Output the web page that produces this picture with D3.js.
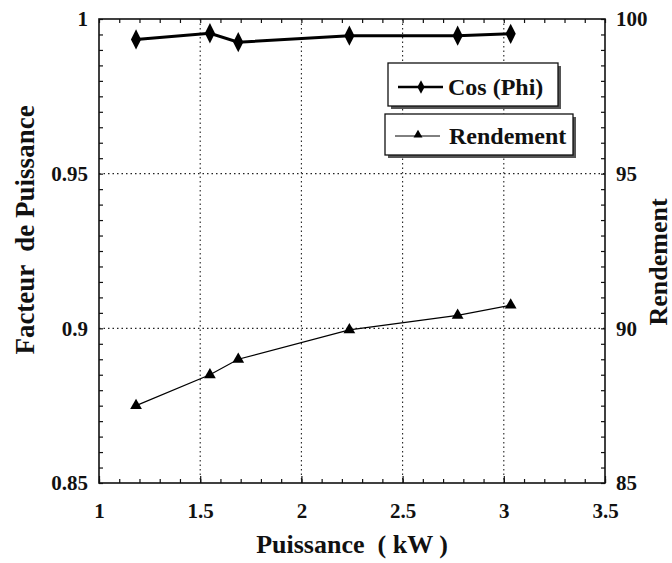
<!DOCTYPE html>
<html><head><meta charset="utf-8">
<script src="https://cdn.jsdelivr.net/npm/d3@7/dist/d3.min.js"></script>
<style>body{margin:0;background:#fff}svg{display:block}</style>
</head><body><svg id="c" width="672" height="563" font-family="Liberation Serif" font-weight="bold"></svg>
<script>
const power = [1.183, 1.548, 1.688, 2.237, 2.772, 3.034];
const cosPhi = [0.9934, 0.9954, 0.9925, 0.9946, 0.9946, 0.9952];
const rendement = [87.5, 88.5, 89.0, 89.95, 90.42, 90.75];
const xTicks = [1, 1.5, 2, 2.5, 3, 3.5];
const yLeftTicks = [0.85, 0.9, 0.95, 1];
const yRightTicks = [85, 90, 95, 100];
const seriesNames = ["Cos (Phi)", "Rendement"];

const svg = d3.select("#c");
const L = 99, R = 605, T = 19, B = 483;
const x = d3.scaleLinear().domain([1, 3.5]).range([L, R]);
const yL = d3.scaleLinear().domain([0.85, 1]).range([B, T]);
const yR = d3.scaleLinear().domain([85, 100]).range([B, T]);

// grid
const g = svg.append("g");
g.selectAll(".gx").data(xTicks.filter(v => v > 1 && v < 3.5)).join("line")
  .attr("x1", d => x(d)).attr("x2", d => x(d)).attr("y1", T).attr("y2", B)
  .attr("stroke", "#222").attr("stroke-width", 1.1).attr("stroke-dasharray", "1.5,3");
g.selectAll(".gy").data(yLeftTicks.filter(v => v > 0.85 && v < 1)).join("line")
  .attr("y1", d => yL(d)).attr("y2", d => yL(d)).attr("x1", L).attr("x2", R)
  .attr("stroke", "#222").attr("stroke-width", 1.1).attr("stroke-dasharray", "1.5,3");

// axes (ticks inward)
const xMinor = d3.range(1, 3.5001, 0.1);
const yMinor = d3.range(0.85, 1.0001, 0.005);
function axis(gen, tr) {
  const a = svg.append("g").attr("transform", tr).call(gen);
  a.attr("font-family", null).attr("font-size", null);
  a.select(".domain").remove();
  a.selectAll("line").attr("stroke", "#111").attr("stroke-width", 1.2);
  return a;
}
axis(d3.axisTop(x).tickValues(xMinor).tickSize(4).tickFormat(""), `translate(0,${B})`);
axis(d3.axisTop(x).tickValues(xTicks).tickSize(7).tickFormat(""), `translate(0,${B})`);
axis(d3.axisBottom(x).tickValues(xMinor).tickSize(4).tickFormat(""), `translate(0,${T})`);
axis(d3.axisRight(yL).tickValues(yMinor).tickSize(4).tickFormat(""), `translate(${L},0)`);
axis(d3.axisLeft(yL).tickValues(yMinor).tickSize(4).tickFormat(""), `translate(${R},0)`);

// frame
svg.append("rect").attr("x", L).attr("y", T).attr("width", R - L).attr("height", B - T)
  .attr("fill", "none").attr("stroke", "#111").attr("stroke-width", 1.6);

// tick labels
const fmt = d => String(d);
const xl = axis(d3.axisBottom(x).tickValues(xTicks).tickSize(0).tickPadding(0).tickFormat(fmt), `translate(0,${B})`);
xl.selectAll("text").attr("y", 35).attr("dy", 0).attr("font-size", 21);
const yll = axis(d3.axisLeft(yL).tickValues(yLeftTicks).tickSize(0).tickPadding(0).tickFormat(fmt), `translate(${L},0)`);
yll.selectAll("text").attr("x", -11).attr("dy", "0.32em").attr("font-size", 21);
const yrl = axis(d3.axisRight(yR).tickValues(yRightTicks).tickSize(0).tickPadding(0).tickFormat(fmt), `translate(${R},0)`);
yrl.selectAll("text").attr("x", 11).attr("dy", "0.32em").attr("font-size", 21);

// axis titles
svg.append("text").attr("x", 352).attr("y", 553).attr("text-anchor", "middle")
  .attr("font-size", 26).style("white-space", "pre").text("Puissance  ( kW )");
svg.append("text").attr("transform", "translate(34,230) rotate(-90)").attr("text-anchor", "middle")
  .style("white-space", "pre").attr("font-size", 27).text("Facteur  de Puissance");
svg.append("text").attr("transform", "translate(667,262) rotate(-90)").attr("text-anchor", "middle")
  .attr("font-size", 26).text("Rendement");

// series
const diamond = d3.symbol().type(d3.symbolDiamond).size(90);
const tri = d3.symbol().type(d3.symbolTriangle).size(60);
const cosData = power.map((p, i) => [p, cosPhi[i]]);
const renData = power.map((p, i) => [p, rendement[i]]);
svg.append("path").datum(cosData).attr("fill", "none").attr("stroke", "#000").attr("stroke-width", 3)
  .attr("d", d3.line().x(d => x(d[0])).y(d => yL(d[1])));
svg.selectAll(".dm").data(cosData).join("path").attr("d", diamond)
  .attr("transform", d => `translate(${x(d[0])},${yL(d[1])}) scale(1,1.15)`).attr("fill", "#000");
svg.append("path").datum(renData).attr("fill", "none").attr("stroke", "#000").attr("stroke-width", 1.2)
  .attr("d", d3.line().x(d => x(d[0])).y(d => yR(d[1])));
svg.selectAll(".tr").data(renData).join("path").attr("d", tri)
  .attr("transform", d => `translate(${x(d[0])},${yR(d[1])})`).attr("fill", "#000");

// legend
function legendBox(bx, by, bw, bh) {
  svg.append("rect").attr("x", bx + 3).attr("y", by + 3).attr("width", bw).attr("height", bh).attr("fill", "#555");
  svg.append("rect").attr("x", bx).attr("y", by).attr("width", bw).attr("height", bh)
    .attr("fill", "#fff").attr("stroke", "#111").attr("stroke-width", 1.3);
}
legendBox(388, 63, 170, 43);
svg.append("line").attr("x1", 398).attr("x2", 443).attr("y1", 87).attr("y2", 87).attr("stroke", "#000").attr("stroke-width", 2.5);
svg.append("path").attr("d", d3.symbol().type(d3.symbolDiamond).size(45)).attr("transform", "translate(421,87) scale(1,1.1)");
svg.append("text").attr("x", 448).attr("y", 95).attr("font-size", 24).text(seriesNames[0]);
legendBox(385, 114, 188, 41);
svg.append("line").attr("x1", 395).attr("x2", 440).attr("y1", 136).attr("y2", 136).attr("stroke", "#000").attr("stroke-width", 1);
svg.append("path").attr("d", d3.symbol().type(d3.symbolTriangle).size(35)).attr("transform", "translate(418,135)");
svg.append("text").attr("x", 449).attr("y", 144).attr("font-size", 24).text(seriesNames[1]);

svg.selectAll("text").attr("font-family", "Liberation Serif").attr("font-weight", "bold").attr("fill", "#111");
</script></body></html>
